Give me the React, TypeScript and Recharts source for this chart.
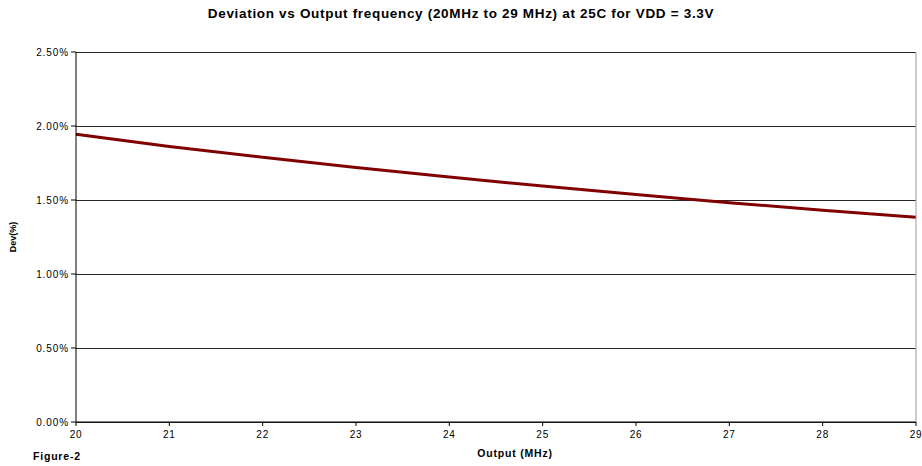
import { LineChart, Line, XAxis, YAxis, CartesianGrid, Label } from "recharts";

const outputMHz = [20, 21, 22, 23, 24, 25, 26, 27, 28, 29];
const devPercent = [1.945, 1.862, 1.789, 1.72, 1.655, 1.594, 1.537, 1.482, 1.431, 1.383];
const yTicks = [0, 0.5, 1, 1.5, 2, 2.5];

const data = outputMHz.map((f, i) => ({ f, dev: devPercent[i] }));

const font = "'Liberation Sans', Arial, sans-serif";

export default function App() {
  return (
    <div style={{ position: "absolute", left: 0, top: 0, width: 922, height: 466, fontFamily: font }}>
      <div
        style={{
          position: "absolute",
          top: 6,
          left: 0,
          width: 922,
          textAlign: "center",
          fontSize: 13.5,
          fontWeight: "bold",
          letterSpacing: 0.68,
        }}
      >
        Deviation vs Output frequency (20MHz to 29 MHz) at 25C for VDD = 3.3V
      </div>
      <div style={{ position: "absolute", left: 33, top: 450, fontSize: 10.5, fontWeight: "bold", letterSpacing: 0.8 }}>
        Figure-2
      </div>
      <LineChart width={922} height={466} data={data} margin={{ top: 52, right: 0, bottom: 0, left: 0 }}>
        <CartesianGrid
          yAxisId="left"
          vertical={false}
          stroke="#000"
          strokeWidth={1}
          strokeOpacity={0.85}
          shapeRendering="crispEdges"
        />
        <XAxis
          dataKey="f"
          type="number"
          domain={[20, 29]}
          ticks={outputMHz}
          height={44}
          stroke="#000"
          tickSize={4}
          tick={{ fill: "#000", fontSize: 10, fontFamily: font, letterSpacing: 0.8, dy: 3 }}
        >
          <Label
            value="Output (MHz)"
            position="insideBottom"
            offset={9}
            dx={19}
            style={{ fontSize: 10.5, fontWeight: "bold", fill: "#000", fontFamily: font, letterSpacing: 0.8 }}
          />
        </XAxis>
        <YAxis
          yAxisId="left"
          type="number"
          domain={[0, 2.5]}
          ticks={yTicks}
          width={76}
          stroke="#000"
          tickSize={5}
          tickFormatter={(v: number) => v.toFixed(2) + "%"}
          tick={{ fill: "#000", fontSize: 10, fontFamily: font, letterSpacing: 0.9 }}
        >
          <Label
            value="Dev(%)"
            angle={-90}
            position="insideLeft"
            offset={13}
            style={{ fontSize: 9, fontWeight: "bold", fill: "#000", fontFamily: font, textAnchor: "middle" }}
          />
        </YAxis>
        <YAxis yAxisId="right" orientation="right" width={6} domain={[0, 2.5]} tick={false} tickLine={false} stroke="#999" />
        <Line
          yAxisId="left"
          dataKey="dev"
          stroke="#800000"
          strokeWidth={3}
          dot={false}
          type="linear"
          isAnimationActive={false}
        />
      </LineChart>
    </div>
  );
}
